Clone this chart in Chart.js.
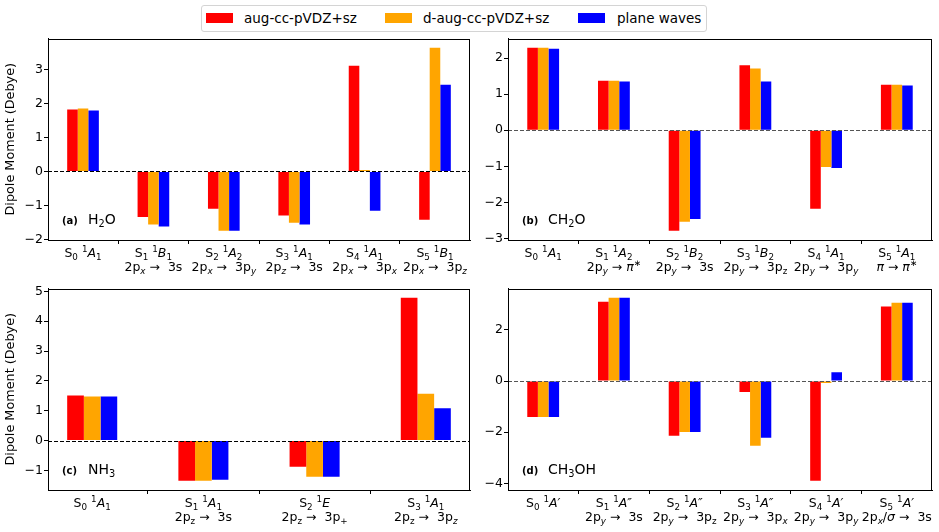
<!DOCTYPE html>
<html>
<head>
<meta charset="utf-8">
<script src="https://cdn.jsdelivr.net/npm/chart.js@4.4.0/dist/chart.umd.min.js"></script>
<style>
  body { margin: 0; background: #fff; width: 939px; height: 532px; position: relative; overflow: hidden; font-family: "DejaVu Sans"; }
  canvas { position: absolute; }
  #legend { position: absolute; left: 201px; top: 5px; width: 504px; height: 25px; border: 1px solid #d4d4d4; border-radius: 3px; background: #fff; }
  .sw { position: absolute; top: 7px; width: 27px; height: 10px; }
  .lt { position: absolute; top: 4px; font-size: 13.5px; line-height: 16px; color: #000; white-space: nowrap; }
</style>
</head>
<body>
<div id="legend"></div>
<canvas id="chA" width="475" height="250" style="left:0;top:30px"></canvas>
<canvas id="chB" width="464" height="250" style="left:475px;top:30px"></canvas>
<canvas id="chC" width="475" height="252" style="left:0;top:280px"></canvas>
<canvas id="chD" width="464" height="252" style="left:475px;top:280px"></canvas>
<script>
console.log('Loaded')

const seriesNames = ['aug-cc-pVDZ+sz', 'd-aug-cc-pVDZ+sz', 'plane waves'];
const seriesColors = ['#ff0000', '#ffa500', '#0000ff'];

// (a) H2O
const h2oStates = [
  ['S_{0} ^{1}*A*_{1}'],
  ['S_{1} ^{1}*B*_{1}', '2p_{*x*} →  3s'],
  ['S_{2} ^{1}*A*_{2}', '2p_{*x*} →  3p_{*y*}'],
  ['S_{3} ^{1}*A*_{1}', '2p_{*z*} →  3s'],
  ['S_{4} ^{1}*A*_{1}', '2p_{*x*} →  3p_{*x*}'],
  ['S_{5} ^{1}*B*_{1}', '2p_{*x*} →  3p_{*z*}']
];
const h2oAug  = [1.83, -1.34, -1.10, -1.30, 3.12, -1.42];
const h2oDaug = [1.86, -1.56, -1.75, -1.51, 0.04, 3.65];
const h2oPw   = [1.80, -1.62, -1.75, -1.56, -1.16, 2.56];
const h2oTicks = [-2, -1, 0, 1, 2, 3];

// (b) CH2O
const ch2oStates = [
  ['S_{0} ^{1}*A*_{1}'],
  ['S_{1} ^{1}*A*_{2}', '2p_{*y*} → *π*^{∗}'],
  ['S_{2} ^{1}*B*_{2}', '2p_{*y*} →  3s'],
  ['S_{3} ^{1}*B*_{2}', '2p_{*y*} →  3p_{z}'],
  ['S_{4} ^{1}*A*_{1}', '2p_{*y*} →  3p_{*y*}'],
  ['S_{5} ^{1}*A*_{1}', '*π* → *π*^{∗}']
];
const ch2oAug  = [2.29, 1.37, -2.79, 1.80, -2.18, 1.26];
const ch2oDaug = [2.29, 1.37, -2.54, 1.71, -1.02, 1.26];
const ch2oPw   = [2.26, 1.35, -2.46, 1.35, -1.05, 1.24];
const ch2oTicks = [-3, -2, -1, 0, 1, 2];

// (c) NH3
const nh3States = [
  ['S_{0} ^{1}*A*_{1}'],
  ['S_{1} ^{1}*A*_{1}', '2p_{z} →  3s'],
  ['S_{2} ^{1}*E*', '2p_{z} →  3p_{+}'],
  ['S_{3} ^{1}*A*_{1}', '2p_{z} →  3p_{*z*}']
];
const nh3Aug  = [1.51, -1.35, -0.88, 4.79];
const nh3Daug = [1.48, -1.35, -1.21, 1.57];
const nh3Pw   = [1.48, -1.31, -1.21, 1.08];
const nh3Ticks = [-1, 0, 1, 2, 3, 4, 5];

// (d) CH3OH
const ch3ohStates = [
  ['S_{0} ^{1}*A′*'],
  ['S_{1} ^{1}*A″*', '2p_{*y*} →  3s'],
  ['S_{2} ^{1}*A″*', '2p_{*y*} →  3p_{z}'],
  ['S_{3} ^{1}*A″*', '2p_{*y*} →  3p_{*x*}'],
  ['S_{4} ^{1}*A′*', '2p_{*y*} →  3p_{*y*}'],
  ['S_{5} ^{1}*A′*', '2p_{*x*}/*σ* →  3s']
];
const ch3ohAug  = [-1.40, 3.10, -2.14, -0.43, -3.90, 2.91];
const ch3ohDaug = [-1.40, 3.26, -1.99, -2.53, -0.08, 3.06];
const ch3ohPw   = [-1.40, 3.26, -1.99, -2.22, 0.34, 3.06];
const ch3ohTicks = [-4, -2, 0, 2];

// legend (shared, html)
const legend = document.getElementById('legend');
const swX = [4, 183, 376], txtX = [42, 221, 415];
seriesNames.forEach((n, k) => {
  legend.insertAdjacentHTML('beforeend',
    `<div class="sw" style="left:${swX[k]}px;background:${seriesColors[k]}"></div>` +
    `<div class="lt" style="left:${txtX[k]}px">${n}</div>`);
});

// tiny markup: _{..} sub, ^{..} sup, *..* italic
function parseRich(s) {
  const segs = [];
  let it = false, pos = 'n', buf = '';
  const push = () => { if (buf) segs.push({ t: buf, it, pos }); buf = ''; };
  for (let i = 0; i < s.length; i++) {
    const c = s[i];
    if (c === '*') { push(); it = !it; }
    else if ((c === '_' || c === '^') && s[i + 1] === '{') { push(); pos = c === '_' ? 'sub' : 'sup'; i++; }
    else if (c === '}') { push(); pos = 'n'; }
    else buf += c;
  }
  push();
  return segs;
}

function segFont(sg, size, weight) {
  const sz = sg.pos === 'n' ? size : size * 0.7;
  return `${sg.it ? 'italic ' : ''}${weight || ''} ${sz}px "DejaVu Sans"`;
}

function drawRich(ctx, str, x, y, size, align, weight) {
  const segs = parseRich(str);
  let w = 0;
  segs.forEach(sg => { ctx.font = segFont(sg, size, weight); sg.w = ctx.measureText(sg.t).width; w += sg.w; });
  let cx = align === 'center' ? x - w / 2 : x;
  ctx.textAlign = 'left';
  ctx.textBaseline = 'alphabetic';
  segs.forEach(sg => {
    ctx.font = segFont(sg, size, weight);
    const dy = sg.pos === 'sub' ? size * 0.22 : sg.pos === 'sup' ? -size * 0.42 : 0;
    ctx.fillText(sg.t, cx, y + dy);
    cx += sg.w;
  });
}

const panelDeco = {
  id: 'panelDeco',
  afterDatasetsDraw(chart, args, o) {
    const { ctx, chartArea: a, scales } = chart;
    const y0 = Math.round(scales.y.getPixelForValue(0)) + 0.5;
    ctx.save();
    ctx.strokeStyle = o.zeroColor;
    ctx.lineWidth = 1;
    ctx.setLineDash([4, 2]);
    ctx.beginPath();
    ctx.moveTo(a.left, y0);
    ctx.lineTo(a.right, y0);
    ctx.stroke();
    ctx.restore();
  },
  afterDraw(chart, args, o) {
    const { ctx, chartArea: a, scales } = chart;
    ctx.save();
    ctx.strokeStyle = '#000';
    ctx.lineWidth = 1;
    ctx.strokeRect(Math.round(a.left) + 0.5, Math.round(a.top) + 0.5, Math.round(a.right - a.left) - 1, Math.round(a.bottom - a.top) - 1);
    ctx.fillStyle = '#000';
    o.states.forEach((lines, i) => {
      const x = scales.x.getPixelForValue(i);
      lines.forEach((ln, j) => drawRich(ctx, ln, x, a.bottom + 17 + j * 14, 12.5, 'center'));
    });
    ctx.font = 'bold 10px "DejaVu Sans"';
    ctx.textAlign = 'left';
    ctx.fillText(o.tag, a.left + 14, a.bottom - 16);
    drawRich(ctx, o.mol, a.left + 40, a.bottom - 16, 14, 'left');
    ctx.restore();
  }
};

function makePanel(id, states, series, ticks, tag, mol, geo, zeroColor) {
  const all = series.flat().concat([0]);
  const lo = Math.min(...all), hi = Math.max(...all);
  const pad = 0.05 * (hi - lo);
  const half = 0.225, n = states.length;
  const xpad = 0.05 * (n - 1 + 2 * half);
  return new Chart(document.getElementById(id).getContext('2d'), {
    type: 'bar',
    data: {
      datasets: series.map((vals, k) => ({
        label: seriesNames[k],
        data: vals.map((v, i) => ({ x: i, y: v })),
        backgroundColor: seriesColors[k],
        borderWidth: 0,
        categoryPercentage: 0.45,
        barPercentage: 1.0
      }))
    },
    options: {
      responsive: false,
      animation: false,
      layout: { autoPadding: false, padding: { left: 0, top: geo.top, right: geo.right, bottom: 0 } },
      plugins: {
        legend: { display: false },
        tooltip: { enabled: false },
        panelDeco: { states, tag, mol, zeroColor }
      },
      scales: {
        x: {
          type: 'linear', offset: false,
          min: -half - xpad, max: n - 1 + half + xpad,
          afterBuildTicks: s => { s.ticks = states.map((_, i) => ({ value: i })); },
          afterFit: s => { s.height = geo.xh; },
          ticks: { callback: () => '', autoSkip: false, maxRotation: 0 },
          grid: { drawOnChartArea: false, tickLength: 4, tickColor: '#000' },
          border: { color: '#000', width: 1 }
        },
        y: {
          min: lo - pad, max: hi + pad,
          afterBuildTicks: s => { s.ticks = ticks.map(v => ({ value: v })); },
          afterFit: s => { s.width = geo.yw; },
          ticks: {
            font: { family: 'DejaVu Sans', size: 12.5 }, color: '#000', padding: 1,
            callback: v => String(v).replace('-', '\u2212')
          },
          grid: { drawOnChartArea: false, tickLength: 4, tickColor: '#000' },
          border: { color: '#000', width: 1 },
          title: {
            display: geo.title, text: 'Dipole Moment (Debye)', color: '#000',
            font: { family: 'DejaVu Sans', size: 12.8 }, padding: { top: 3, bottom: 0 }
          }
        }
      }
    },
    plugins: [panelDeco]
  });
}

let chartA = makePanel('chA', h2oStates, [h2oAug, h2oDaug, h2oPw], h2oTicks, '(a)', 'H_{2}O',
  { top: 7, right: 5, xh: 40, yw: 48, title: true }, '#000');
let chartB = makePanel('chB', ch2oStates, [ch2oAug, ch2oDaug, ch2oPw], ch2oTicks, '(b)', 'CH_{2}O',
  { top: 7, right: 7, xh: 40, yw: 33, title: false }, '#555');
let chartC = makePanel('chC', nh3States, [nh3Aug, nh3Daug, nh3Pw], nh3Ticks, '(c)', 'NH_{3}',
  { top: 8, right: 5, xh: 42, yw: 48, title: true }, '#000');
let chartD = makePanel('chD', ch3ohStates, [ch3ohAug, ch3ohDaug, ch3ohPw], ch3ohTicks, '(d)', 'CH_{3}OH',
  { top: 8, right: 7, xh: 42, yw: 33, title: false }, '#555');
</script>
</body>
</html>
